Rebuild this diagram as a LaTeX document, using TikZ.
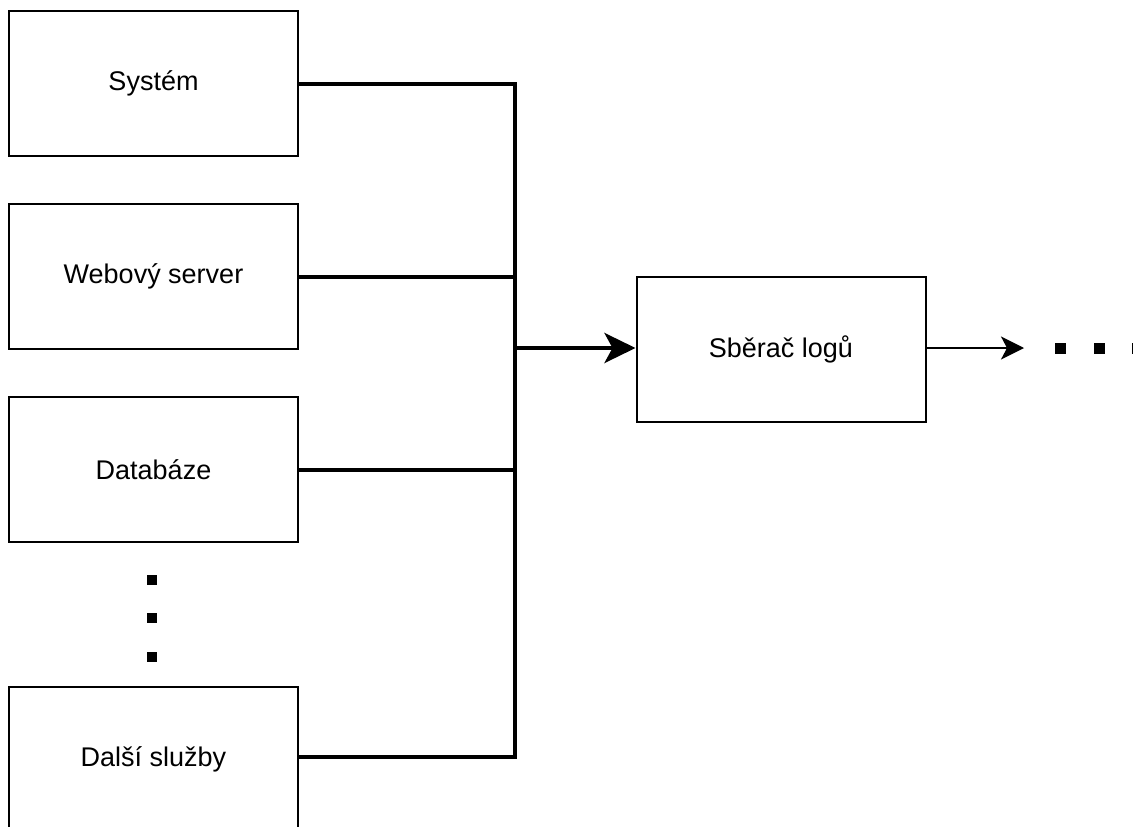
\documentclass[tikz,border=0pt]{standalone}
\usepackage{fontspec}
\setmainfont{Liberation Sans}
\usetikzlibrary{arrows.meta}
\begin{document}
\begin{tikzpicture}[x=1pt,y=-1pt,
  box/.style={draw, line width=2pt, rectangle, minimum width=289pt, minimum height=145pt, inner sep=0pt, font=\fontsize{27}{32}\selectfont},
  conn/.style={line width=4pt},
  dotsq/.style={fill=black}]
\useasboundingbox (0,0) rectangle (1133,827);
\clip (0,0) rectangle (1133,827);
\node[box] (sys) at (153.5,83.5) {Systém};
\node[box] (web) at (153.5,276.5) {Webový server};
\node[box] (db) at (153.5,469.5) {Databáze};
\node[box] (dal) at (153.5,759) {Další služby};
\node[box] (sb) at (781,349.5) {Sběrač logů};
\coordinate (btop) at (514.5,83.5);
\coordinate (bbot) at (514.5,757);
\coordinate (bmid) at (514.5,348);
\coordinate (out) at (1024,348);
\draw[conn, line cap=rect] (sys.east) -- (btop) -- (bbot) -- (dal.east |- bbot);
\draw[conn] (web.east) -- (web.east -| btop);
\draw[conn] (db.east) -- (db.east -| btop);
\draw[conn, -{Stealth[length=31pt, width=30pt, inset=8pt]}] (bmid) -- (sb.west |- bmid);
\draw[line width=2pt, -{Stealth[length=23pt, width=23pt, inset=6pt]}] (sb.east |- out) -- (out);
\foreach \y in {580,618,657} \fill (147,\y-5) rectangle (157,\y+5);
\foreach \x in {1060,1099,1137} \fill (\x-5.5,343) rectangle (\x+5.5,354);
\end{tikzpicture}
\end{document}
